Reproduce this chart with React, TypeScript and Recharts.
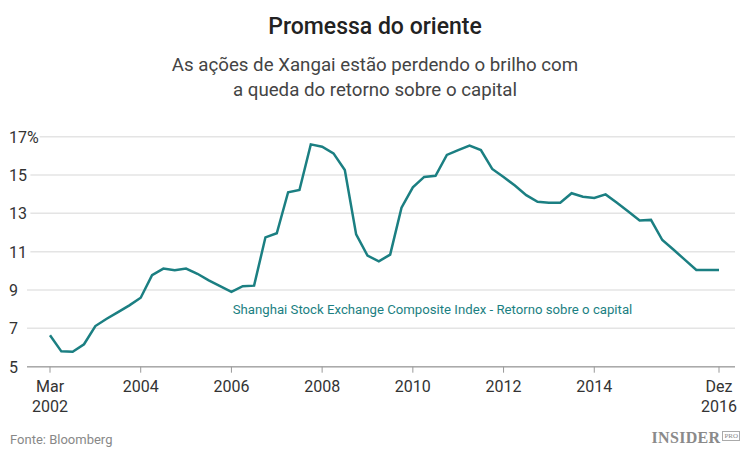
import React from 'react';
import { LineChart, Line, XAxis, YAxis, CartesianGrid } from 'recharts';

// Quarterly return on equity, Shanghai Composite, Mar 2002 – Dez 2016
const quarters = [
  '2002-1', '2002-2', '2002-3', '2002-4',
  '2003-1', '2003-2', '2003-3', '2003-4',
  '2004-1', '2004-2', '2004-3', '2004-4',
  '2005-1', '2005-2', '2005-3', '2005-4',
  '2006-1', '2006-2', '2006-3', '2006-4',
  '2007-1', '2007-2', '2007-3', '2007-4',
  '2008-1', '2008-2', '2008-3', '2008-4',
  '2009-1', '2009-2', '2009-3', '2009-4',
  '2010-1', '2010-2', '2010-3', '2010-4',
  '2011-1', '2011-2', '2011-3', '2011-4',
  '2012-1', '2012-2', '2012-3', '2012-4',
  '2013-1', '2013-2', '2013-3', '2013-4',
  '2014-1', '2014-2', '2014-3', '2014-4',
  '2015-1', '2015-2', '2015-3', '2015-4',
  '2016-1', '2016-2', '2016-3', '2016-4',
];

const roe = [
  6.64, 5.8, 5.78, 6.17,
  7.12, 7.5, 7.85, 8.2,
  8.6, 9.78, 10.12, 10.03,
  10.12, 9.85, 9.5, 9.2,
  8.9, 9.2, 9.23, 11.75,
  11.96, 14.1, 14.22, 16.6,
  16.48, 16.13, 15.26, 11.9,
  10.8, 10.5, 10.85, 13.3,
  14.36, 14.9, 14.96, 16.05,
  16.3, 16.53, 16.3, 15.32,
  14.9, 14.45, 13.95, 13.6,
  13.56, 13.56, 14.05, 13.87,
  13.8, 13.99, 13.55, 13.1,
  12.63, 12.66, 11.61, 11.1,
  10.57, 10.05, 10.05, 10.05,
];

const xTicks = ['2002-1', '2004-1', '2006-1', '2008-1', '2010-1', '2012-1', '2014-1', '2016-4'];
const xTickLabels: Record<string, string[]> = {
  '2002-1': ['Mar', '2002'],
  '2004-1': ['2004'],
  '2006-1': ['2006'],
  '2008-1': ['2008'],
  '2010-1': ['2010'],
  '2012-1': ['2012'],
  '2014-1': ['2014'],
  '2016-4': ['Dez', '2016'],
};
const yTicks = [5, 7, 9, 11, 13, 15, 17];

const data = quarters.map((q, i) => ({ q, roe: roe[i] }));

const FONT = 'Roboto, "Noto Sans", sans-serif';
const TEAL = '#1b7f82';

const XTick = (props: any) => {
  const { x, y, payload } = props;
  const lines = xTickLabels[payload.value] || [];
  return (
    <g transform={`translate(${x},${y})`}>
      {lines.map((t, i) => (
        <text key={i} x={0} y={19 + i * 20} textAnchor="middle" fill="#333" fontSize={16} fontFamily={FONT}>
          {t}
        </text>
      ))}
    </g>
  );
};

const YTick = (props: any) => {
  const { y, payload } = props;
  const label = payload.value === 17 ? '17%' : String(payload.value);
  const w = label.length * 9.2 + 4;
  return (
    <g>
      <rect x={8} y={y - 4} width={w} height={8} fill="#fff" />
      <text x={9} y={y + 6} textAnchor="start" fill="#333" fontSize={16} fontFamily={FONT}>
        {label}
      </text>
    </g>
  );
};

export default function App() {
  return (
    <div style={{ position: 'absolute', left: 0, top: 0, width: 750, height: 454, background: '#fff', fontFamily: FONT }}>
      <div style={{ position: 'absolute', top: 13, width: 750, textAlign: 'center', fontSize: 23, fontWeight: 500, color: '#222' }}>
        Promessa do oriente
      </div>
      <div style={{ position: 'absolute', top: 53, width: 750, textAlign: 'center', fontSize: 18.7, lineHeight: '25px', color: '#444' }}>
        As ações de Xangai estão perdendo o brilho com
        <br />
        a queda do retorno sobre o capital
      </div>

      <div style={{ position: 'absolute', left: 0, top: 0 }}>
        <LineChart width={750} height={454} data={data} margin={{ top: 136.7, right: 15, bottom: 0, left: 0 }}>
          <CartesianGrid horizontal vertical={false} stroke="#e4e4e4" strokeWidth={1.5} />
          <XAxis
            dataKey="q"
            type="category"
            ticks={xTicks}
            interval={0}
            tick={<XTick />}
            tickSize={6}
            tickMargin={0}
            tickLine={{ stroke: '#999' }}
            axisLine={{ stroke: '#aaa', strokeWidth: 1.5 }}
            padding={{ left: 23, right: 16 }}
            height={87.3}
          />
          <YAxis
            domain={[5, 17]}
            ticks={yTicks}
            width={27}
            axisLine={false}
            tickLine={false}
            tick={<YTick />}
          />
          <Line
            type="linear"
            dataKey="roe"
            stroke={TEAL}
            strokeWidth={2.5}
            dot={false}
            isAnimationActive={false}
          />
        </LineChart>
      </div>

      <div style={{ position: 'absolute', left: 0, top: 302, width: 865, textAlign: 'center', fontSize: 13.2, color: TEAL }}>
        Shanghai Stock Exchange Composite Index - Retorno sobre o capital
      </div>

      <div style={{ position: 'absolute', left: 10, top: 432, fontSize: 13, color: '#888' }}>Fonte: Bloomberg</div>
      <div style={{ position: 'absolute', right: 10, top: 429, display: 'flex', alignItems: 'flex-start', color: '#8a8a8a' }}>
        <span style={{ fontFamily: '"Liberation Serif", "DejaVu Serif", serif', fontWeight: 700, fontSize: 16, letterSpacing: 0.3 }}>INSIDER</span>
        <span style={{ fontFamily: '"Liberation Serif", serif', fontSize: 7, border: '1px solid #aaa', padding: '0 1px', marginLeft: 2, marginTop: 2, lineHeight: '8px' }}>PRO</span>
      </div>
    </div>
  );
}
